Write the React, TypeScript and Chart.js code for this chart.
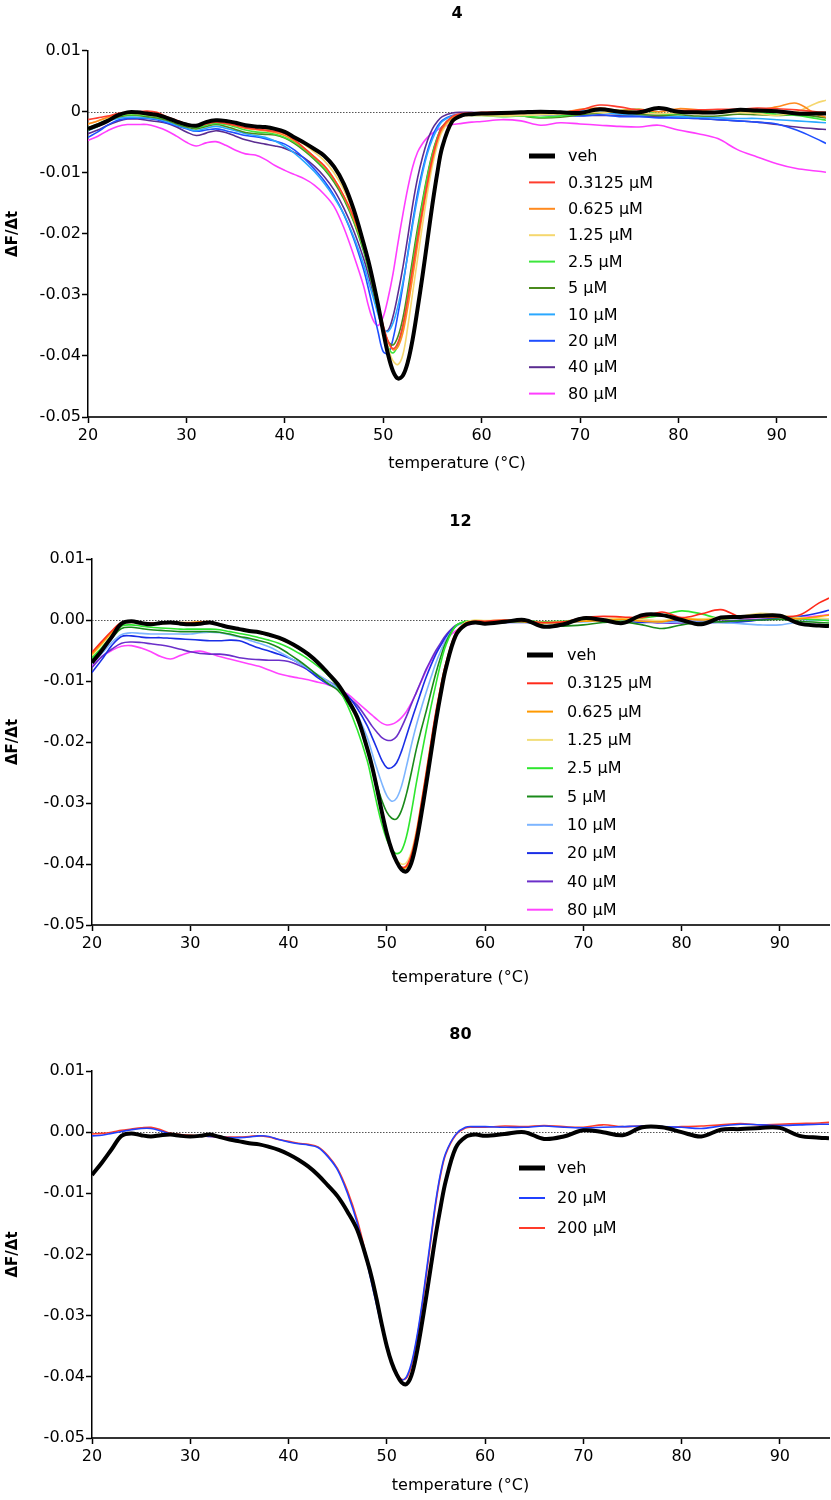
import React, { useEffect, useRef } from "react";
import { Chart, registerables } from "chart.js";

Chart.register(...registerables);
Chart.defaults.font.family = "'DejaVu Sans', sans-serif";

// temperature grid (°C): 1° steps, 0.5° steps through the melt dip, 2° steps in the tail
const temps = [
  20, 21, 22, 23, 24, 25, 26, 27, 28, 29,
  30, 31, 32, 33, 34, 35, 36, 37, 38, 39,
  40, 41, 42, 43, 44, 45, 46, 47,
  48, 48.5, 49, 49.5, 50, 50.5, 51, 51.5, 52, 52.5, 53, 53.5, 54, 54.5, 55, 55.5, 56,
  57, 58, 59, 60,
  62, 64, 66, 68, 70, 72, 74, 76, 78, 80, 82, 84, 86, 88, 90, 92, 94, 95,
];

const xTickValues = [20, 30, 40, 50, 60, 70, 80, 90];
const yTickValues = [-0.05, -0.04, -0.03, -0.02, -0.01, 0, 0.01];
const yTickLabelsA = ["-0.05", "-0.04", "-0.03", "-0.02", "-0.01", "0", "0.01"];
const yTickLabelsB = ["-0.05", "-0.04", "-0.03", "-0.02", "-0.01", "0.00", "0.01"];

const labelsA = ["veh", "0.3125 µM", "0.625 µM", "1.25 µM", "2.5 µM", "5 µM", "10 µM", "20 µM", "40 µM", "80 µM"];
const labelsC = ["veh", "20 µM", "200 µM"];

// ---------- panel "4" ----------
const p1Veh = [
  -0.0028, -0.0022, -0.0015, -0.0006, -0.0001, -0.0001, -0.0003, -0.0005, -0.0010, -0.0016,
  -0.0021, -0.0023, -0.0017, -0.0014, -0.0015, -0.0018, -0.0022, -0.0024, -0.0025, -0.0028,
  -0.0033, -0.0042, -0.0051, -0.0061, -0.0072, -0.0090, -0.0118, -0.0160,
  -0.0215, -0.0245, -0.0280, -0.0318, -0.0360, -0.0398, -0.0425, -0.0437, -0.0432, -0.0410, -0.0372, -0.0322, -0.0268, -0.0210, -0.0152, -0.0100, -0.0058,
  -0.0016, -0.0006, -0.0004, -0.0003,
  -0.0002, -0.0001, 0.0000, -0.0001, -0.0002, 0.0004, 0.0000, -0.0001, 0.0006, 0.0000, -0.0001, -0.0001, 0.0003, 0.0002, 0.0001, -0.0003, -0.0003, -0.0003,
];
const p1C03125 = [
  -0.0013, -0.0010, -0.0007, -0.0003, -0.0001, 0.0000, 0.0001, -0.0001, -0.0008, -0.0014,
  -0.0020, -0.0024, -0.0020, -0.0017, -0.0019, -0.0022, -0.0026, -0.0028, -0.0030, -0.0032,
  -0.0036, -0.0046, -0.0060, -0.0074, -0.0088, -0.0110, -0.0138, -0.0172,
  -0.0215, -0.0246, -0.0282, -0.0318, -0.0350, -0.0376, -0.0388, -0.0378, -0.0350, -0.0306, -0.0256, -0.0206, -0.0160, -0.0115, -0.0075, -0.0045, -0.0025,
  -0.0008, -0.0003, -0.0002, -0.0001,
  0.0000, -0.0001, 0.0000, -0.0001, 0.0003, 0.0011, 0.0008, 0.0003, 0.0004, 0.0002, 0.0003, 0.0004, 0.0004, 0.0006, 0.0005, 0.0003, 0.0000, -0.0001,
];
const p1C0625 = [
  -0.0020, -0.0015, -0.0009, -0.0004, -0.0002, -0.0002, -0.0004, -0.0006, -0.0010, -0.0016,
  -0.0021, -0.0024, -0.0019, -0.0017, -0.0019, -0.0023, -0.0027, -0.0029, -0.0031, -0.0034,
  -0.0039, -0.0048, -0.0060, -0.0074, -0.0089, -0.0110, -0.0138, -0.0175,
  -0.0220, -0.0250, -0.0285, -0.0320, -0.0352, -0.0377, -0.0390, -0.0385, -0.0362, -0.0320, -0.0270, -0.0217, -0.0166, -0.0120, -0.0080, -0.0048, -0.0028,
  -0.0010, -0.0005, -0.0004, -0.0004,
  -0.0004, -0.0003, -0.0002, -0.0002, 0.0004, 0.0006, 0.0002, 0.0004, 0.0000, 0.0005, 0.0003, 0.0000, 0.0002, 0.0003, 0.0008, 0.0014, -0.0004, -0.0009,
];
const p1C125 = [
  -0.0020, -0.0015, -0.0010, -0.0005, -0.0003, -0.0003, -0.0005, -0.0007, -0.0011, -0.0016,
  -0.0020, -0.0022, -0.0019, -0.0016, -0.0017, -0.0020, -0.0023, -0.0026, -0.0028, -0.0030,
  -0.0034, -0.0043, -0.0054, -0.0066, -0.0080, -0.0100, -0.0128, -0.0168,
  -0.0215, -0.0246, -0.0282, -0.0320, -0.0355, -0.0387, -0.0408, -0.0414, -0.0398, -0.0352, -0.0296, -0.0240, -0.0185, -0.0133, -0.0088, -0.0055, -0.0032,
  -0.0012, -0.0007, -0.0006, -0.0006,
  -0.0007, -0.0006, -0.0005, -0.0004, -0.0002, -0.0001, 0.0000, -0.0002, -0.0003, -0.0002, -0.0003, -0.0002, -0.0001, -0.0003, -0.0006, 0.0000, 0.0014, 0.0019,
];
const p1C25 = [
  -0.0026, -0.0020, -0.0013, -0.0007, -0.0005, -0.0005, -0.0006, -0.0008, -0.0012, -0.0018,
  -0.0023, -0.0026, -0.0022, -0.0019, -0.0021, -0.0025, -0.0030, -0.0033, -0.0034, -0.0037,
  -0.0042, -0.0050, -0.0062, -0.0076, -0.0092, -0.0112, -0.0140, -0.0178,
  -0.0225, -0.0255, -0.0290, -0.0326, -0.0360, -0.0386, -0.0395, -0.0382, -0.0352, -0.0303, -0.0250, -0.0198, -0.0150, -0.0106, -0.0070, -0.0043, -0.0025,
  -0.0010, -0.0006, -0.0006, -0.0006,
  -0.0008, -0.0007, -0.0009, -0.0007, -0.0003, 0.0004, 0.0002, 0.0004, -0.0003, -0.0003, -0.0001, 0.0000, 0.0000, -0.0001, -0.0004, -0.0006, -0.0011, -0.0014,
];
const p1C5 = [
  -0.0030, -0.0024, -0.0016, -0.0009, -0.0006, -0.0006, -0.0008, -0.0010, -0.0014, -0.0020,
  -0.0025, -0.0028, -0.0024, -0.0021, -0.0024, -0.0029, -0.0034, -0.0036, -0.0037, -0.0038,
  -0.0043, -0.0052, -0.0064, -0.0078, -0.0094, -0.0115, -0.0143, -0.0180,
  -0.0228, -0.0258, -0.0292, -0.0326, -0.0355, -0.0376, -0.0382, -0.0368, -0.0338, -0.0292, -0.0240, -0.0190, -0.0145, -0.0103, -0.0068, -0.0042, -0.0024,
  -0.0010, -0.0005, -0.0004, -0.0004,
  -0.0005, -0.0007, -0.0010, -0.0009, -0.0005, -0.0002, 0.0000, -0.0004, -0.0006, -0.0005, -0.0007, -0.0007, -0.0004, -0.0005, -0.0006, -0.0005, -0.0008, -0.0010,
];
const p1C10 = [
  -0.0031, -0.0024, -0.0016, -0.0011, -0.0009, -0.0009, -0.0010, -0.0012, -0.0016, -0.0022,
  -0.0027, -0.0031, -0.0027, -0.0024, -0.0027, -0.0031, -0.0036, -0.0039, -0.0042, -0.0048,
  -0.0057, -0.0068, -0.0082, -0.0098, -0.0117, -0.0140, -0.0168, -0.0205,
  -0.0250, -0.0278, -0.0305, -0.0333, -0.0355, -0.0360, -0.0346, -0.0318, -0.0280, -0.0235, -0.0185, -0.0140, -0.0100, -0.0068, -0.0045, -0.0028, -0.0016,
  -0.0007, -0.0004, -0.0004, -0.0004,
  -0.0004, -0.0005, -0.0004, -0.0002, 0.0002, 0.0000, -0.0004, -0.0005, -0.0006, -0.0008, -0.0009, -0.0010, -0.0011, -0.0011, -0.0013, -0.0015, -0.0017, -0.0018,
];
const p1C20 = [
  -0.0042, -0.0033, -0.0022, -0.0014, -0.0011, -0.0010, -0.0011, -0.0013, -0.0018, -0.0023,
  -0.0028, -0.0032, -0.0030, -0.0028, -0.0031, -0.0035, -0.0039, -0.0041, -0.0044, -0.0048,
  -0.0053, -0.0063, -0.0077, -0.0094, -0.0113, -0.0137, -0.0168, -0.0208,
  -0.0258, -0.0290, -0.0325, -0.0362, -0.0393, -0.0396, -0.0372, -0.0332, -0.0285, -0.0232, -0.0180, -0.0133, -0.0095, -0.0064, -0.0040, -0.0024, -0.0014,
  -0.0006, -0.0004, -0.0004, -0.0005,
  -0.0004, -0.0002, -0.0005, -0.0005, -0.0007, -0.0005, -0.0008, -0.0008, -0.0010, -0.0010, -0.0011, -0.0013, -0.0015, -0.0017, -0.0020, -0.0030, -0.0044, -0.0052,
];
const p1C40 = [
  -0.0036, -0.0030, -0.0022, -0.0016, -0.0012, -0.0012, -0.0014, -0.0016, -0.0019, -0.0025,
  -0.0033, -0.0039, -0.0035, -0.0031, -0.0034, -0.0040, -0.0046, -0.0050, -0.0053, -0.0056,
  -0.0060, -0.0067, -0.0076, -0.0089, -0.0106, -0.0128, -0.0158, -0.0195,
  -0.0240, -0.0268, -0.0298, -0.0330, -0.0358, -0.0358, -0.0335, -0.0298, -0.0255, -0.0205, -0.0152, -0.0108, -0.0074, -0.0047, -0.0028, -0.0016, -0.0008,
  -0.0002, -0.0001, -0.0001, -0.0002,
  -0.0003, -0.0003, -0.0003, -0.0005, -0.0006, -0.0006, -0.0006, -0.0007, -0.0008, -0.0010, -0.0011, -0.0013, -0.0015, -0.0017, -0.0021, -0.0025, -0.0028, -0.0029,
];
const p1C80 = [
  -0.0047, -0.0040, -0.0031, -0.0024, -0.0021, -0.0021, -0.0021, -0.0025, -0.0031, -0.0040,
  -0.0050, -0.0056, -0.0051, -0.0049, -0.0055, -0.0063, -0.0069, -0.0071, -0.0078, -0.0088,
  -0.0096, -0.0103, -0.0110, -0.0120, -0.0135, -0.0155, -0.0190, -0.0235,
  -0.0285, -0.0318, -0.0342, -0.0350, -0.0336, -0.0305, -0.0265, -0.0215, -0.0168, -0.0125, -0.0090, -0.0066, -0.0052, -0.0042, -0.0035, -0.0030, -0.0025,
  -0.0021, -0.0019, -0.0017, -0.0016,
  -0.0013, -0.0015, -0.0022, -0.0018, -0.0020, -0.0022, -0.0024, -0.0025, -0.0022, -0.0030, -0.0036, -0.0044, -0.0062, -0.0074, -0.0085, -0.0093, -0.0097, -0.0099,
];

// ---------- shared vehicle for panels "12" and "80" ----------
const pBVeh = [
  -0.0070, -0.0050, -0.0028, -0.0006, -0.0002, -0.0005, -0.0007, -0.0005, -0.0004, -0.0006,
  -0.0007, -0.0006, -0.0004, -0.0008, -0.0012, -0.0015, -0.0018, -0.0020, -0.0024, -0.0029,
  -0.0036, -0.0045, -0.0056, -0.0070, -0.0087, -0.0105, -0.0130, -0.0160,
  -0.0210, -0.0240, -0.0276, -0.0315, -0.0350, -0.0377, -0.0396, -0.0409, -0.0412, -0.0398, -0.0365, -0.0320, -0.0270, -0.0218, -0.0166, -0.0120, -0.0080,
  -0.0026, -0.0008, -0.0004, -0.0006,
  -0.0003, 0.0000, -0.0011, -0.0007, 0.0003, 0.0000, -0.0005, 0.0008, 0.0008, 0.0000, -0.0007, 0.0004, 0.0005, 0.0007, 0.0007, -0.0006, -0.0009, -0.0010,
];

// ---------- panel "12" ----------
const p2C03125 = [
  -0.0053, -0.0035, -0.0018, -0.0004, -0.0002, -0.0004, -0.0005, -0.0005, -0.0005, -0.0005,
  -0.0005, -0.0004, -0.0004, -0.0008, -0.0012, -0.0015, -0.0018, -0.0021, -0.0025, -0.0030,
  -0.0037, -0.0046, -0.0057, -0.0071, -0.0088, -0.0106, -0.0131, -0.0163,
  -0.0212, -0.0243, -0.0280, -0.0318, -0.0352, -0.0378, -0.0396, -0.0405, -0.0403, -0.0385, -0.0350, -0.0302, -0.0252, -0.0200, -0.0150, -0.0108, -0.0072,
  -0.0022, -0.0006, -0.0002, -0.0002,
  0.0000, -0.0002, -0.0004, -0.0003, 0.0004, 0.0006, 0.0005, 0.0004, 0.0013, 0.0004, 0.0010, 0.0017, 0.0005, 0.0006, 0.0005, 0.0008, 0.0028, 0.0036,
];
const p2C0625 = [
  -0.0056, -0.0038, -0.0020, -0.0005, -0.0003, -0.0005, -0.0006, -0.0005, -0.0004, -0.0004,
  -0.0004, -0.0003, -0.0003, -0.0007, -0.0011, -0.0015, -0.0018, -0.0021, -0.0025, -0.0030,
  -0.0037, -0.0046, -0.0057, -0.0071, -0.0088, -0.0106, -0.0131, -0.0163,
  -0.0212, -0.0243, -0.0280, -0.0318, -0.0353, -0.0380, -0.0398, -0.0407, -0.0405, -0.0388, -0.0354, -0.0306, -0.0256, -0.0205, -0.0155, -0.0112, -0.0075,
  -0.0023, -0.0005, -0.0002, -0.0003,
  -0.0002, -0.0003, -0.0005, -0.0004, -0.0002, -0.0001, 0.0001, -0.0002, -0.0003, 0.0002, 0.0000, 0.0002, 0.0004, 0.0006, 0.0004, 0.0002, 0.0006, 0.0008,
];
const p2C125 = [
  -0.0058, -0.0040, -0.0022, -0.0006, -0.0004, -0.0005, -0.0006, -0.0006, -0.0005, -0.0005,
  -0.0005, -0.0004, -0.0004, -0.0008, -0.0012, -0.0015, -0.0018, -0.0021, -0.0025, -0.0031,
  -0.0038, -0.0047, -0.0058, -0.0072, -0.0089, -0.0107, -0.0132, -0.0165,
  -0.0214, -0.0245, -0.0282, -0.0319, -0.0352, -0.0377, -0.0393, -0.0400, -0.0398, -0.0380, -0.0346, -0.0300, -0.0250, -0.0200, -0.0152, -0.0108, -0.0072,
  -0.0022, -0.0004, 0.0000, -0.0001,
  0.0000, -0.0001, -0.0004, -0.0003, -0.0001, 0.0002, 0.0003, 0.0001, -0.0001, 0.0003, 0.0002, 0.0004, 0.0006, 0.0011, 0.0008, 0.0004, 0.0003, 0.0002,
];
const p2C25 = [
  -0.0062, -0.0045, -0.0026, -0.0010, -0.0008, -0.0010, -0.0012, -0.0013, -0.0014, -0.0015,
  -0.0015, -0.0015, -0.0015, -0.0016, -0.0019, -0.0022, -0.0025, -0.0029, -0.0033, -0.0038,
  -0.0045, -0.0054, -0.0064, -0.0076, -0.0090, -0.0110, -0.0140, -0.0180,
  -0.0230, -0.0265, -0.0302, -0.0335, -0.0360, -0.0376, -0.0383, -0.0378, -0.0355, -0.0315, -0.0268, -0.0224, -0.0182, -0.0142, -0.0105, -0.0070, -0.0042,
  -0.0010, -0.0002, -0.0002, -0.0003,
  -0.0003, -0.0001, -0.0003, -0.0002, 0.0000, 0.0000, -0.0002, 0.0003, 0.0008, 0.0015, 0.0010, 0.0002, 0.0004, 0.0005, 0.0004, 0.0002, 0.0000, -0.0001,
];
const p2C5 = [
  -0.0065, -0.0048, -0.0030, -0.0014, -0.0012, -0.0014, -0.0016, -0.0017, -0.0018, -0.0019,
  -0.0019, -0.0019, -0.0019, -0.0020, -0.0023, -0.0027, -0.0030, -0.0034, -0.0038, -0.0045,
  -0.0055, -0.0066, -0.0078, -0.0091, -0.0104, -0.0115, -0.0135, -0.0164,
  -0.0210, -0.0240, -0.0270, -0.0296, -0.0315, -0.0325, -0.0326, -0.0312, -0.0285, -0.0250, -0.0212, -0.0180, -0.0150, -0.0118, -0.0087, -0.0060, -0.0037,
  -0.0010, -0.0003, -0.0003, -0.0004,
  -0.0004, -0.0003, -0.0009, -0.0010, -0.0008, -0.0004, -0.0003, -0.0008, -0.0014, -0.0008, -0.0004, -0.0003, -0.0001, 0.0000, 0.0001, -0.0002, -0.0004, -0.0005,
];
const p2C10 = [
  -0.0072, -0.0055, -0.0037, -0.0024, -0.0021, -0.0022, -0.0023, -0.0023, -0.0023, -0.0023,
  -0.0023, -0.0021, -0.0020, -0.0021, -0.0024, -0.0028, -0.0033, -0.0038, -0.0044, -0.0052,
  -0.0061, -0.0070, -0.0080, -0.0090, -0.0100, -0.0112, -0.0130, -0.0155,
  -0.0192, -0.0218, -0.0244, -0.0268, -0.0288, -0.0297, -0.0292, -0.0272, -0.0240, -0.0205, -0.0173, -0.0145, -0.0119, -0.0094, -0.0070, -0.0050, -0.0033,
  -0.0011, -0.0004, -0.0003, -0.0004,
  -0.0003, -0.0003, -0.0005, -0.0004, -0.0003, -0.0001, 0.0000, -0.0002, -0.0004, -0.0003, -0.0001, -0.0004, -0.0006, -0.0008, -0.0008, -0.0003, 0.0000, 0.0001,
];
const p2C20 = [
  -0.0086, -0.0065, -0.0042, -0.0027, -0.0026, -0.0028, -0.0029, -0.0029, -0.0030, -0.0031,
  -0.0032, -0.0033, -0.0034, -0.0034, -0.0033, -0.0034, -0.0040, -0.0046, -0.0051, -0.0056,
  -0.0062, -0.0070, -0.0082, -0.0095, -0.0105, -0.0112, -0.0124, -0.0145,
  -0.0173, -0.0192, -0.0211, -0.0230, -0.0242, -0.0242, -0.0234, -0.0215, -0.0190, -0.0165, -0.0141, -0.0117, -0.0094, -0.0074, -0.0056, -0.0041, -0.0028,
  -0.0010, -0.0004, -0.0003, -0.0004,
  -0.0004, -0.0004, -0.0005, -0.0003, -0.0001, -0.0001, -0.0001, -0.0004, -0.0003, -0.0001, -0.0004, -0.0004, -0.0003, 0.0000, 0.0002, 0.0006, 0.0012, 0.0016,
];
const p2C40 = [
  -0.0078, -0.0060, -0.0048, -0.0038, -0.0036, -0.0037, -0.0039, -0.0041, -0.0044, -0.0048,
  -0.0052, -0.0055, -0.0056, -0.0056, -0.0058, -0.0062, -0.0064, -0.0065, -0.0066, -0.0066,
  -0.0068, -0.0074, -0.0082, -0.0092, -0.0100, -0.0110, -0.0125, -0.0140,
  -0.0162, -0.0174, -0.0184, -0.0193, -0.0197, -0.0197, -0.0191, -0.0176, -0.0158, -0.0138, -0.0119, -0.0100, -0.0081, -0.0065, -0.0050, -0.0037, -0.0025,
  -0.0009, -0.0003, -0.0002, -0.0003,
  -0.0002, -0.0002, -0.0004, -0.0004, -0.0002, -0.0002, -0.0003, -0.0003, -0.0005, -0.0005, -0.0004, -0.0002, 0.0000, 0.0001, 0.0003, 0.0002, 0.0001, 0.0000,
];
const p2C80 = [
  -0.0075, -0.0060, -0.0050, -0.0043, -0.0042, -0.0046, -0.0052, -0.0060, -0.0064, -0.0058,
  -0.0053, -0.0051, -0.0055, -0.0060, -0.0064, -0.0068, -0.0072, -0.0076, -0.0082, -0.0088,
  -0.0092, -0.0095, -0.0098, -0.0102, -0.0106, -0.0113, -0.0121, -0.0135,
  -0.0149, -0.0156, -0.0163, -0.0169, -0.0172, -0.0171, -0.0167, -0.0160, -0.0150, -0.0136, -0.0119, -0.0101, -0.0083, -0.0067, -0.0053, -0.0041, -0.0032,
  -0.0018, -0.0010, -0.0005, -0.0004,
  -0.0002, -0.0003, -0.0005, -0.0004, -0.0002, 0.0000, -0.0002, 0.0000, -0.0002, 0.0001, -0.0002, 0.0002, 0.0003, 0.0004, 0.0005, 0.0004, 0.0007, 0.0009,
];

// ---------- panel "80" ----------
const p3C20 = [
  -0.0006, -0.0005, -0.0002, 0.0001, 0.0004, 0.0006, 0.0006, 0.0002, -0.0003, -0.0005,
  -0.0006, -0.0006, -0.0007, -0.0008, -0.0009, -0.0009, -0.0008, -0.0006, -0.0007, -0.0012,
  -0.0016, -0.0019, -0.0021, -0.0025, -0.0040, -0.0062, -0.0100, -0.0149,
  -0.0214, -0.0250, -0.0285, -0.0320, -0.0351, -0.0377, -0.0396, -0.0405, -0.0400, -0.0378, -0.0340, -0.0290, -0.0231, -0.0170, -0.0111, -0.0065, -0.0034,
  -0.0004, 0.0008, 0.0009, 0.0009,
  0.0008, 0.0008, 0.0010, 0.0008, 0.0007, 0.0008, 0.0009, 0.0010, 0.0009, 0.0008, 0.0006, 0.0010, 0.0013, 0.0012, 0.0011, 0.0012, 0.0013, 0.0013,
];
const p3C200 = [
  -0.0003, -0.0002, 0.0000, 0.0003, 0.0005, 0.0007, 0.0008, 0.0004, -0.0002, -0.0004,
  -0.0005, -0.0006, -0.0007, -0.0008, -0.0008, -0.0008, -0.0007, -0.0006, -0.0008, -0.0012,
  -0.0015, -0.0018, -0.0020, -0.0024, -0.0038, -0.0060, -0.0096, -0.0144,
  -0.0208, -0.0244, -0.0280, -0.0315, -0.0348, -0.0375, -0.0394, -0.0404, -0.0402, -0.0382, -0.0344, -0.0295, -0.0236, -0.0175, -0.0115, -0.0068, -0.0036,
  -0.0005, 0.0007, 0.0008, 0.0008,
  0.0010, 0.0009, 0.0011, 0.0009, 0.0008, 0.0012, 0.0009, 0.0010, 0.0008, 0.0009, 0.0010, 0.0012, 0.0014, 0.0012, 0.0013, 0.0014, 0.0015, 0.0016,
];

const colorsA = ["#000000", "#FF3D2E", "#FF8A1F", "#F5D76E", "#3CE63C", "#4A8A1C", "#2AA8FF", "#1F4FFF", "#5B2C91", "#FF3DFF"];
const colorsB = ["#000000", "#FF2A1A", "#FF9900", "#F2DE7A", "#2EE62E", "#1A8A1A", "#7DB5FF", "#1A2EE6", "#6B2FC9", "#FF44FF"];
const colorsC = ["#000000", "#2040FF", "#FF3B2A"];

const valuesA = [p1Veh, p1C03125, p1C0625, p1C125, p1C25, p1C5, p1C10, p1C20, p1C40, p1C80];
const valuesB = [pBVeh, p2C03125, p2C0625, p2C125, p2C25, p2C5, p2C10, p2C20, p2C40, p2C80];
const valuesC = [pBVeh, p3C20, p3C200];

type Spec = {
  top: number;
  height: number;
  title: string;
  titleY: number;
  area: { left: number; right: number; top: number; bottom: number };
  xTitlePad: number;
  yLabels: string[];
  legend: { x1: number; x2: number; tx: number; y0: number; dy: number };
  labels: string[];
  colors: string[];
  values: number[][];
};

const W = 831;
const FONT = "'DejaVu Sans', sans-serif";

const specs: Spec[] = [
  {
    top: 0, height: 480, title: "4", titleY: 14,
    area: { left: 88, right: 826, top: 50.7, bottom: 417 },
    xTitlePad: 7, yLabels: yTickLabelsA,
    legend: { x1: 529, x2: 555, tx: 568, y0: 156, dy: 26.4 },
    labels: labelsA, colors: colorsA, values: valuesA,
  },
  {
    top: 490, height: 500, title: "12", titleY: 32,
    area: { left: 92, right: 829, top: 69, bottom: 435 },
    xTitlePad: 3, yLabels: yTickLabelsB,
    legend: { x1: 527, x2: 553, tx: 567, y0: 165, dy: 28.3 },
    labels: labelsA, colors: colorsB, values: valuesB,
  },
  {
    top: 1000, height: 500, title: "80", titleY: 35,
    area: { left: 92, right: 829, top: 71, bottom: 438 },
    xTitlePad: 5, yLabels: yTickLabelsB,
    legend: { x1: 519, x2: 545, tx: 557, y0: 168, dy: 30 },
    labels: labelsC, colors: colorsC, values: valuesC,
  },
];

const zeroLinePlugin = {
  id: "zeroLine",
  beforeDatasetsDraw(chart: any) {
    const { ctx, chartArea, scales } = chart;
    const y = Math.round(scales.y.getPixelForValue(0)) + 0.5;
    ctx.save();
    ctx.strokeStyle = "#555";
    ctx.lineWidth = 1;
    ctx.setLineDash([1.5, 1.5]);
    ctx.beginPath();
    ctx.moveTo(chartArea.left, y);
    ctx.lineTo(chartArea.right, y);
    ctx.stroke();
    ctx.restore();
  },
};

const decorPlugin = {
  id: "panelDecor",
  afterDraw(chart: any, _args: any, opts: any) {
    const { ctx, chartArea } = chart;
    ctx.save();
    ctx.fillStyle = "#000";
    ctx.font = `bold 16px ${FONT}`;
    ctx.textAlign = "center";
    ctx.textBaseline = "middle";
    ctx.fillText(opts.title, (chartArea.left + chartArea.right) / 2, opts.titleY);
    ctx.font = `16px ${FONT}`;
    ctx.textAlign = "left";
    chart.data.datasets.forEach((ds: any, i: number) => {
      const y = opts.y0 + i * opts.dy;
      ctx.strokeStyle = ds.borderColor;
      ctx.lineWidth = i === 0 ? 5 : 2;
      ctx.setLineDash([]);
      ctx.lineCap = "butt";
      ctx.beginPath();
      ctx.moveTo(opts.x1, y);
      ctx.lineTo(opts.x2, y);
      ctx.stroke();
      ctx.fillText(ds.label, opts.tx, y + 1);
    });
    ctx.restore();
  },
};

function Panel({ spec }: { spec: Spec }) {
  const ref = useRef<HTMLCanvasElement | null>(null);
  useEffect(() => {
    if (!ref.current) return;
    const { area, height } = spec;
    const datasets = spec.values.map((vals, i) => ({
      label: spec.labels[i],
      data: temps.map((t, k) => ({ x: t, y: vals[k] })),
      borderColor: spec.colors[i],
      backgroundColor: spec.colors[i],
      borderWidth: i === 0 ? 4 : 1.6,
      pointRadius: 0,
      tension: 0.35,
      fill: false,
      borderJoinStyle: "round" as const,
    }));
    const tickFont = { family: FONT, size: 16 };
    const chart = new Chart(ref.current, {
      type: "line",
      data: { datasets },
      options: {
        responsive: false,
        animation: false,
        events: [],
        layout: { padding: { top: area.top, right: W - area.right, left: 0, bottom: 0 } },
        plugins: {
          legend: { display: false },
          tooltip: { enabled: false },
          title: { display: false },
          panelDecor: { title: spec.title, titleY: spec.titleY, ...spec.legend },
        } as any,
        scales: {
          x: {
            type: "linear",
            min: 20,
            max: 95,
            afterBuildTicks: (s: any) => {
              s.ticks = xTickValues.map((v) => ({ value: v }));
            },
            afterFit: (s: any) => {
              s.height = height - area.bottom;
            },
            grid: { display: true, drawOnChartArea: false, drawTicks: true, tickLength: 6, tickColor: "#000", tickWidth: 1.5 },
            border: { display: true, color: "#333", width: 2 },
            ticks: { color: "#000", font: tickFont, padding: 3, autoSkip: false, maxRotation: 0, callback: (v: any) => String(v) },
            title: { display: true, text: "temperature (°C)", color: "#000", font: { family: FONT, size: 16 }, padding: { top: 0, bottom: spec.xTitlePad } },
          },
          y: {
            type: "linear",
            min: -0.05,
            max: 0.01,
            afterBuildTicks: (s: any) => {
              s.ticks = yTickValues.map((v) => ({ value: v }));
            },
            afterFit: (s: any) => {
              s.width = area.left;
            },
            grid: { display: true, drawOnChartArea: false, drawTicks: true, tickLength: 6, tickColor: "#000", tickWidth: 1.5 },
            border: { display: true, color: "#000", width: 1.5 },
            ticks: {
              color: "#000",
              font: tickFont,
              padding: 1,
              callback: (v: any) => {
                const k = yTickValues.findIndex((t) => Math.abs(t - v) < 1e-9);
                return k >= 0 ? spec.yLabels[k] : "";
              },
            },
            title: { display: true, text: "ΔF/Δt", color: "#000", font: { family: FONT, size: 15, weight: "bold" }, padding: { top: 4, bottom: 0 } },
          },
        },
      },
      plugins: [zeroLinePlugin, decorPlugin],
    });
    return () => chart.destroy();
  }, [spec]);
  return (
    <canvas
      ref={ref}
      width={W}
      height={spec.height}
      style={{ position: "absolute", left: 0, top: spec.top, width: W, height: spec.height, display: "block" }}
    />
  );
}

export default function App() {
  return (
    <div style={{ position: "absolute", left: 0, top: 0, width: W, height: 1500, background: "#fff" }}>
      {specs.map((s, i) => (
        <Panel key={i} spec={s} />
      ))}
    </div>
  );
}
